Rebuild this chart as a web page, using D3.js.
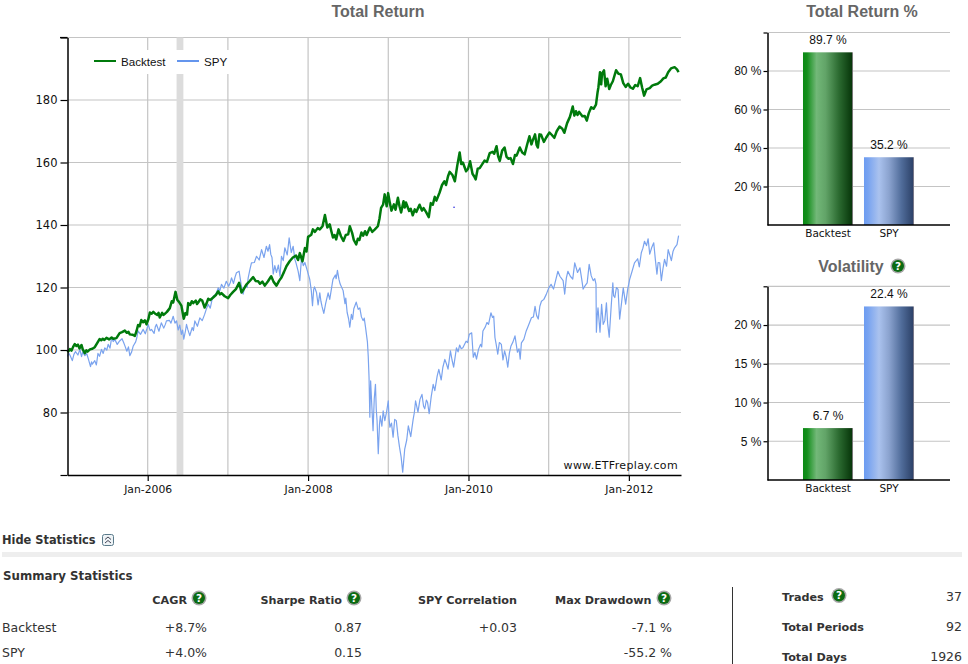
<!DOCTYPE html>
<html><head><meta charset="utf-8">
<script src="https://cdn.jsdelivr.net/npm/d3@7/dist/d3.min.js"></script>
<style>html,body{margin:0;padding:0;background:#fff;overflow:hidden}svg{display:block}</style>
</head><body><svg id="c" width="968" height="664"></svg>
<script>
// [decimal year, value]
const backtestSeries=[[2005.00,99.3],[2005.02,99.9],[2005.03,100.3],[2005.05,99.8],[2005.07,101],[2005.09,101.9],[2005.11,101.3],[2005.13,101.7],[2005.15,100.5],[2005.175,101.6],[2005.19,100.2],[2005.216,99],[2005.235,99.9],[2005.25,99.5],[2005.28,100.2],[2005.31,100.4],[2005.34,100.9],[2005.37,102.2],[2005.40,103.5],[2005.42,103.1],[2005.44,103.6],[2005.46,103.2],[2005.486,103.9],[2005.52,103.4],[2005.55,104],[2005.57,103.6],[2005.61,103.8],[2005.63,104.6],[2005.65,105.4],[2005.68,105.7],[2005.715,106.2],[2005.74,105.5],[2005.76,105.8],[2005.777,105],[2005.81,104.9],[2005.84,104.5],[2005.86,106],[2005.88,108],[2005.90,107.6],[2005.92,109.6],[2005.943,108.9],[2005.965,109.5],[2005.985,108.2],[2006.01,110],[2006.027,112],[2006.05,111.6],[2006.07,112.2],[2006.09,111.7],[2006.12,111.2],[2006.135,111.9],[2006.15,110.4],[2006.18,111.9],[2006.195,111.2],[2006.21,111.5],[2006.24,112.2],[2006.276,113.4],[2006.30,115.6],[2006.318,115.2],[2006.347,118.6],[2006.37,116],[2006.39,115.4],[2006.42,114.2],[2006.45,110],[2006.47,111.8],[2006.49,111.3],[2006.505,115],[2006.53,114.4],[2006.55,115.6],[2006.567,115],[2006.60,115.8],[2006.615,114.7],[2006.63,115.2],[2006.655,116.2],[2006.68,115.8],[2006.71,113.6],[2006.735,115],[2006.755,116.4],[2006.78,116],[2006.816,116.8],[2006.85,117.6],[2006.88,118.8],[2006.90,117.8],[2006.92,118.2],[2006.96,117.2],[2007.003,116.6],[2007.03,117.6],[2007.065,118.6],[2007.10,119.5],[2007.14,121.5],[2007.17,118.4],[2007.20,119.6],[2007.23,120.9],[2007.27,122],[2007.315,123.3],[2007.345,122.1],[2007.377,122],[2007.40,121.2],[2007.43,121.9],[2007.46,120.6],[2007.50,122],[2007.54,123.6],[2007.57,121.8],[2007.606,120.6],[2007.64,122.2],[2007.668,123.2],[2007.70,125],[2007.73,126.8],[2007.77,128.4],[2007.81,129.6],[2007.85,130.2],[2007.875,128.8],[2007.897,131],[2007.93,128.4],[2007.96,132.6],[2007.98,131.5],[2008.00,136.2],[2008.04,136.9],[2008.06,138.6],[2008.086,137.8],[2008.12,139],[2008.146,138.6],[2008.18,139.6],[2008.21,143.2],[2008.24,139.2],[2008.27,140.2],[2008.29,138],[2008.31,136],[2008.33,136.8],[2008.35,135.4],[2008.38,138.6],[2008.41,136.4],[2008.44,134.9],[2008.47,136.8],[2008.50,137],[2008.52,139.6],[2008.55,137.4],[2008.57,135.2],[2008.60,133.8],[2008.62,135.6],[2008.64,135.2],[2008.665,137.6],[2008.686,136.6],[2008.71,138],[2008.73,136.8],[2008.77,139.2],[2008.80,137.8],[2008.83,138.5],[2008.87,139.6],[2008.89,142],[2008.91,145.5],[2008.935,146.5],[2008.955,149.8],[2008.98,146],[2008.998,150.2],[2009.02,147],[2009.04,144.6],[2009.07,146.6],[2009.09,144.9],[2009.12,148.7],[2009.14,146],[2009.16,144],[2009.19,147.6],[2009.205,145.6],[2009.22,147.2],[2009.26,144.5],[2009.28,145.2],[2009.305,143.1],[2009.33,145],[2009.35,144.2],[2009.39,146.5],[2009.42,144.6],[2009.44,145.4],[2009.47,144.2],[2009.505,142.5],[2009.53,147],[2009.555,146.5],[2009.58,149],[2009.60,147.8],[2009.64,150.4],[2009.67,152.8],[2009.70,154],[2009.72,152.8],[2009.745,155.6],[2009.765,157],[2009.80,156],[2009.83,154],[2009.86,159],[2009.89,163.2],[2009.91,159.5],[2009.93,160],[2009.97,157.2],[2009.995,158],[2010.02,160.4],[2010.05,156.4],[2010.07,155.6],[2010.09,154.6],[2010.115,158],[2010.14,158.2],[2010.17,159.4],[2010.20,160.6],[2010.23,160.2],[2010.265,163],[2010.30,163.4],[2010.32,162.8],[2010.35,165.2],[2010.37,162],[2010.39,160.5],[2010.42,163.8],[2010.45,164.8],[2010.475,161.8],[2010.50,161.2],[2010.525,161.4],[2010.555,159.5],[2010.58,162.4],[2010.60,162.2],[2010.64,164.8],[2010.67,163.2],[2010.70,162.6],[2010.73,165.6],[2010.76,168.4],[2010.785,165.8],[2010.80,167],[2010.83,169],[2010.85,165.6],[2010.865,164.8],[2010.885,169],[2010.905,168.9],[2010.94,166.6],[2010.97,168],[2011.01,169.6],[2011.04,168.8],[2011.07,167.9],[2011.10,170],[2011.135,171.5],[2011.17,170.8],[2011.195,169.5],[2011.23,172.6],[2011.265,174.6],[2011.30,177.9],[2011.32,175],[2011.34,176.4],[2011.36,175.2],[2011.38,176.2],[2011.42,174.8],[2011.45,174.9],[2011.475,173.4],[2011.50,175.8],[2011.53,177.7],[2011.56,177.2],[2011.59,178.5],[2011.61,182.5],[2011.62,184],[2011.64,188.9],[2011.655,185],[2011.665,188.4],[2011.69,189.5],[2011.71,184.4],[2011.73,186.8],[2011.755,183.5],[2011.775,184.8],[2011.80,186],[2011.84,189.5],[2011.87,188.4],[2011.90,188.2],[2011.93,185.4],[2011.96,184.2],[2011.99,185.2],[2012.02,184],[2012.05,183.6],[2012.08,184.8],[2012.11,184.4],[2012.14,187],[2012.165,184],[2012.19,181.4],[2012.22,183.4],[2012.26,183.8],[2012.29,184.6],[2012.32,184.9],[2012.36,185.2],[2012.40,186],[2012.43,186.9],[2012.46,187.2],[2012.49,188.9],[2012.525,190.1],[2012.57,190.5],[2012.60,189.8],[2012.62,188.9]];
const spySeries=[[2005.00,97.9],[2005.015,99],[2005.03,98.4],[2005.06,96.6],[2005.08,98.6],[2005.10,99.5],[2005.13,98.4],[2005.155,100.2],[2005.175,97.9],[2005.19,99.4],[2005.216,98.2],[2005.24,98.8],[2005.258,97.3],[2005.287,94.7],[2005.30,96.2],[2005.31,95.5],[2005.34,96.6],[2005.36,95.2],[2005.38,98.9],[2005.40,98],[2005.424,100.2],[2005.445,98.9],[2005.465,100.7],[2005.49,100],[2005.507,101.8],[2005.53,100.6],[2005.55,103.9],[2005.57,102.7],[2005.59,103.4],[2005.62,101.8],[2005.65,102.9],[2005.68,103.6],[2005.70,102.4],[2005.715,101.4],[2005.74,99.6],[2005.76,101],[2005.777,98.2],[2005.80,99.4],[2005.82,101.3],[2005.85,102.6],[2005.865,104],[2005.88,106.1],[2005.91,105],[2005.943,106.6],[2005.97,105.2],[2005.99,106.8],[2006.006,108.2],[2006.03,106.2],[2006.047,106.6],[2006.08,105.3],[2006.095,107.4],[2006.11,108.2],[2006.14,106],[2006.17,108.7],[2006.20,107],[2006.22,108.2],[2006.234,109.3],[2006.27,109.5],[2006.29,108.6],[2006.318,110.8],[2006.34,108.6],[2006.36,109.3],[2006.38,106.4],[2006.40,108],[2006.42,105],[2006.435,106.4],[2006.45,103.5],[2006.47,106],[2006.484,108.2],[2006.50,106.6],[2006.525,104.6],[2006.555,107.2],[2006.57,106.2],[2006.588,109.3],[2006.62,107.6],[2006.65,110.3],[2006.68,109.4],[2006.71,111.4],[2006.73,113],[2006.754,114.6],[2006.78,113.4],[2006.80,115.8],[2006.816,117.2],[2006.85,117.8],[2006.88,119.9],[2006.90,119],[2006.92,121],[2006.95,119.8],[2006.98,122],[2007.01,120.4],[2007.03,121.6],[2007.045,123.1],[2007.07,121.3],[2007.09,123.4],[2007.107,124.7],[2007.14,125.2],[2007.165,121],[2007.19,117.9],[2007.205,119.6],[2007.22,120.8],[2007.24,120],[2007.253,123.1],[2007.275,125.8],[2007.294,127.9],[2007.33,128],[2007.357,130],[2007.39,128.8],[2007.42,132.1],[2007.45,129.6],[2007.48,133.2],[2007.50,131.6],[2007.52,133.7],[2007.535,130.6],[2007.55,129.6],[2007.565,124.3],[2007.585,127],[2007.606,124.8],[2007.63,127.2],[2007.65,123.6],[2007.668,130],[2007.69,128.6],[2007.71,132.7],[2007.74,130.4],[2007.764,135.9],[2007.79,131.2],[2007.814,133.2],[2007.835,129],[2007.85,127.8],[2007.875,125.3],[2007.897,122.2],[2007.918,129.5],[2007.94,127],[2007.96,128],[2007.99,125.4],[2008.02,122.7],[2008.04,119],[2008.055,114.2],[2008.07,119.4],[2008.08,120.2],[2008.105,118.4],[2008.125,114.4],[2008.146,118.3],[2008.16,115.6],[2008.175,113.8],[2008.196,111.7],[2008.22,115],[2008.25,118.3],[2008.27,116.2],[2008.29,119.4],[2008.31,122.6],[2008.34,124],[2008.35,122.8],[2008.366,125.5],[2008.385,122.6],[2008.40,121.1],[2008.437,119],[2008.46,114.8],[2008.47,116.6],[2008.487,112],[2008.505,110],[2008.52,107.3],[2008.54,111.4],[2008.555,109.8],[2008.57,113.2],[2008.60,115.3],[2008.625,113],[2008.645,113.5],[2008.665,110.6],[2008.686,109.4],[2008.70,110.2],[2008.716,107.3],[2008.74,102.5],[2008.75,98],[2008.76,91.3],[2008.77,78.5],[2008.78,90.1],[2008.795,82],[2008.81,74.2],[2008.825,84.4],[2008.84,89],[2008.85,81],[2008.86,77.4],[2008.875,66.8],[2008.89,76],[2008.90,78.9],[2008.92,75.6],[2008.936,80.5],[2008.957,77.4],[2008.98,80.4],[2009.0,83.7],[2009.01,78],[2009.02,75.3],[2009.04,76.6],[2009.06,72.1],[2009.08,77.8],[2009.10,77.4],[2009.12,72.6],[2009.14,68.9],[2009.16,65.8],[2009.18,60.9],[2009.205,68.3],[2009.23,71.2],[2009.25,75.7],[2009.28,72.3],[2009.31,77.8],[2009.325,80],[2009.34,83.7],[2009.37,80.1],[2009.395,84.2],[2009.42,85.8],[2009.44,82],[2009.455,81.2],[2009.475,84],[2009.49,83.2],[2009.51,79.6],[2009.535,85],[2009.56,89],[2009.58,87],[2009.61,91.7],[2009.63,93.8],[2009.66,90.4],[2009.68,94.4],[2009.705,97],[2009.725,95.6],[2009.745,93.9],[2009.775,99.7],[2009.795,96.8],[2009.815,94.5],[2009.85,100.7],[2009.87,99.4],[2009.89,101.6],[2009.91,100.4],[2009.93,100.7],[2009.97,102.8],[2009.99,102.4],[2010.01,105],[2010.04,105.5],[2010.06,97.7],[2010.08,99.2],[2010.10,97.1],[2010.125,100.2],[2010.15,101.8],[2010.165,101],[2010.18,106.1],[2010.21,107.4],[2010.23,108.8],[2010.25,108.2],[2010.28,111.9],[2010.30,110.4],[2010.315,110.8],[2010.33,104],[2010.345,101.9],[2010.365,98.7],[2010.385,102.4],[2010.41,101.8],[2010.43,96.8],[2010.45,99.7],[2010.47,97.8],[2010.49,94.5],[2010.51,99],[2010.53,101.3],[2010.555,102.6],[2010.58,104.5],[2010.61,99.3],[2010.63,100.4],[2010.645,97.1],[2010.66,102.3],[2010.69,103.4],[2010.72,106.1],[2010.75,108],[2010.785,110.3],[2010.81,110.6],[2010.83,114],[2010.85,111],[2010.87,109.9],[2010.89,114],[2010.91,115.6],[2010.94,116.2],[2010.97,117.8],[2011.00,119.8],[2011.03,121],[2011.06,119.5],[2011.09,122.6],[2011.115,125.2],[2011.14,123.6],[2011.18,122.2],[2011.20,117.9],[2011.22,123],[2011.24,125.2],[2011.27,123.6],[2011.30,122.7],[2011.325,127.9],[2011.36,124.8],[2011.39,126.3],[2011.41,123],[2011.43,119.5],[2011.455,120.6],[2011.48,121.5],[2011.505,127.4],[2011.53,123.8],[2011.555,122.2],[2011.575,122.8],[2011.59,121.1],[2011.595,105.7],[2011.605,110.8],[2011.615,113.5],[2011.64,105.7],[2011.66,114.6],[2011.68,108.2],[2011.70,109.4],[2011.72,115.1],[2011.735,108.6],[2011.755,104.1],[2011.78,114.2],[2011.80,121.5],[2011.81,117.4],[2011.825,116.8],[2011.845,120],[2011.865,119.4],[2011.885,109.9],[2011.91,115.4],[2011.93,119.9],[2011.96,114.7],[2011.985,119.4],[2012.01,122.6],[2012.04,125.2],[2012.07,127.9],[2012.11,129.2],[2012.13,126.6],[2012.155,131.1],[2012.175,132.6],[2012.195,134.8],[2012.22,133.4],[2012.24,135.6],[2012.26,130.7],[2012.285,132.8],[2012.31,134.3],[2012.33,129],[2012.35,124.3],[2012.365,128],[2012.385,127.9],[2012.405,122.2],[2012.425,126],[2012.445,129],[2012.47,126.8],[2012.49,132.1],[2012.51,130.4],[2012.53,128.6],[2012.55,131.5],[2012.57,132.7],[2012.60,133.7],[2012.62,136.6]];
const strayPoint=[2009.82,145.7];
const bandYears=[2006.36,2006.445];
const gridYears=[2005,2006,2007,2008,2009,2010,2011,2012];
const axisYears=[2006,2008,2010,2012];
const returnTicksMain=[60,80,100,120,140,160,180,200];
const seriesNames=["Backtest","SPY"];
const totalReturnPct=[89.7,35.2];
const volatilityPct=[6.7,22.4];
const returnTicks=[20,40,60,80,100];
const volTicks=[5,10,15,20,25];
const statCols=["CAGR","Sharpe Ratio","SPY Correlation","Max Drawdown"];
const statBacktest=["+8.7%","0.87","+0.03","-7.1 %"];
const statSpy=["+4.0%","0.15","","-55.2 %"];
const sideLabels=["Trades","Total Periods","Total Days"];
const sideValues=["37","92","1926"];

const svg=d3.select("#c");
const LIB="'Liberation Sans',Arial,sans-serif", DJ="'DejaVu Sans',Verdana,sans-serif";
const GREEN="#007a0c",BLUE="#7aa3ee",GRID="#c4c4c4";
const defs=svg.append("defs");
function grad(id,stops){const g=defs.append("linearGradient").attr("id",id);
 stops.forEach(s=>g.append("stop").attr("offset",s[0]).attr("stop-color",s[1]));}
grad("gGreen",[[0,"#0a8a14"],[.08,"#148e1c"],[.27,"#72b878"],[.45,"#62a468"],[.72,"#2b6a30"],[.98,"#07360a"],[.98,"#777"],[1,"#777"]]);
grad("gBlue",[[0,"#6c9cf2"],[.08,"#78a3f0"],[.3,"#aac2ee"],[.5,"#8ba3cf"],[.75,"#506c9a"],[.98,"#2d4269"],[.98,"#778"],[1,"#778"]]);

function title(t,x,y){return svg.append("text").attr("x",x).attr("y",y).attr("text-anchor","middle")
 .attr("font-family",LIB).attr("font-weight","bold").attr("font-size",16).attr("fill","#666").text(t);}
function help(x,y){const g=svg.append("g").attr("transform",`translate(${x},${y})`);
 g.append("circle").attr("r",7.5).attr("fill","#a8a8a8");
 g.append("circle").attr("r",6).attr("fill","#0b6b12");
 g.append("text").attr("y",3.9).attr("text-anchor","middle").attr("font-family",DJ).attr("font-weight","bold").attr("font-size",10.5).attr("fill","#fff").text("?");}

// main chart
const x=d3.scaleLinear().domain([2005,2012.65]).range([67.5,681]);
const y=d3.scaleLinear().domain([60,200]).range([475,37.5]);
title("Total Return",378,17);
const m=svg.append("g");
m.selectAll(".gy").data(returnTicksMain.slice(1)).join("line").attr("x1",67.5).attr("x2",681)
 .attr("y1",d=>y(d)).attr("y2",d=>y(d)).attr("stroke",GRID).attr("stroke-width",1.2);
m.selectAll(".gx").data(gridYears.slice(1)).join("line").attr("y1",37.5).attr("y2",475)
 .attr("x1",d=>x(d)).attr("x2",d=>x(d)).attr("stroke",GRID).attr("stroke-width",1.2);
m.append("rect").attr("x",x(bandYears[0])).attr("width",x(bandYears[1])-x(bandYears[0]))
 .attr("y",37.5).attr("height",437.5).attr("fill","#dcdcdc");
// legend
const leg=m.append("g");
leg.append("rect").attr("x",88).attr("y",50).attr("width",142).attr("height",24).attr("fill","#fff");
[[94,116,121,GREEN,seriesNames[0]],[177,199,204,"#6495ed",seriesNames[1]]].forEach(l=>{
 leg.append("line").attr("x1",l[0]).attr("x2",l[1]).attr("y1",61).attr("y2",61).attr("stroke",l[3]).attr("stroke-width",2);
 leg.append("text").attr("x",l[2]).attr("y",66).attr("font-family",LIB).attr("font-size",11.6).attr("fill","#111").text(l[4]);
});
const ln=d3.line().x(d=>x(d[0])).y(d=>y(d[1]));
m.append("path").attr("d",ln(spySeries)).attr("fill","none").attr("stroke",BLUE).attr("stroke-width",1.2).attr("stroke-linejoin","round");
m.append("path").attr("d",ln(backtestSeries)).attr("fill","none").attr("stroke",GREEN).attr("stroke-width",2.5).attr("stroke-linejoin","round");
m.append("circle").attr("cx",x(strayPoint[0])).attr("cy",y(strayPoint[1])).attr("r",.8).attr("fill","#2222dd");
function styleAxis(g,size,font){g.selectAll("path").attr("stroke","#000").attr("stroke-width",1.5);
 g.selectAll("line").attr("stroke","#000").attr("stroke-width",1.2);
 g.selectAll("text").attr("font-family",font||DJ).attr("font-size",size).attr("fill","#111");}
const ya=m.append("g").attr("transform","translate(67.5,0)")
 .call(d3.axisLeft(y).tickValues(returnTicksMain).tickSize(7).tickSizeOuter(0).tickFormat(d=>(d===60||d===200)?"":d));
styleAxis(ya,11.5);
const xa=m.append("g").attr("transform","translate(0,475)")
 .call(d3.axisBottom(x).tickValues(axisYears).tickSize(6).tickSizeOuter(0).tickFormat(d=>"Jan-"+d));
styleAxis(xa,10.8);
xa.selectAll("text").attr("dy","0.85em");
m.append("line").attr("x1",60).attr("x2",67.5).attr("y1",37.5).attr("y2",37.5).attr("stroke","#000").attr("stroke-width",1.2);
m.append("text").attr("x",678).attr("y",469).attr("text-anchor","end").attr("font-family",DJ).attr("font-size",11)
 .attr("letter-spacing",".35").attr("fill","#111").text("www.ETFreplay.com");

// bar charts
function bars(vals,ticks,top,bottom,maxV){
 const g=svg.append("g");
 const yb=d3.scaleLinear().domain([0,maxV]).range([bottom,top]);
 const xb=d3.scaleBand().domain(seriesNames).range([797.5,919.5]).paddingInner(.18).paddingOuter(.09);
 g.selectAll(".g").data(ticks).join("line").attr("x1",767.5).attr("x2",950).attr("y1",d=>yb(d)).attr("y2",d=>yb(d)).attr("stroke",GRID).attr("stroke-width",1.2);
 g.selectAll(".b").data(vals).join("rect").attr("x",(d,i)=>xb(seriesNames[i])).attr("width",xb.bandwidth())
  .attr("y",d=>yb(d)).attr("height",d=>bottom-yb(d)).attr("fill",(d,i)=>i?"url(#gBlue)":"url(#gGreen)");
 g.selectAll(".l").data(vals).join("text").attr("x",(d,i)=>xb(seriesNames[i])+xb.bandwidth()/2).attr("y",d=>yb(d)-8)
  .attr("text-anchor","middle").attr("font-family",LIB).attr("font-size",12).attr("fill","#111").text(d=>d.toFixed(1)+" %");
 const a=g.append("g").attr("transform","translate(767.5,0)").call(d3.axisLeft(yb).tickValues(ticks).tickSize(4).tickPadding(2).tickSizeOuter(0).tickFormat(d=>d===maxV?"":d+" %"));
 styleAxis(a,12,LIB);
 const b=g.append("g").attr("transform",`translate(0,${bottom})`).call(d3.axisBottom(xb).tickSize(0));
 styleAxis(b,10.5);
 b.selectAll("text").attr("dy","0.85em");
 b.select("path").attr("d",`M767.5,0H950`);
}
title("Total Return %",862,17);
bars(totalReturnPct,returnTicks,32.5,225,100);
title("Volatility",851,272);
help(898,266);
bars(volatilityPct,volTicks,286.3,480,25);

// statistics
function txt(t,px,py,o={}){return svg.append("text").attr("x",px).attr("y",py).attr("text-anchor",o.a||"start")
 .attr("font-family",DJ).attr("font-weight",o.b?"bold":"normal").attr("font-size",o.s||12).attr("fill",o.c||"#333").text(t);}
txt("Hide Statistics",2,544,{b:1,s:11.4});
const ic=svg.append("g").attr("transform","translate(102,534)");
ic.append("rect").attr("x",.5).attr("y",.5).attr("width",11).attr("height",11).attr("rx",2).attr("fill","#eef3f6").attr("stroke","#5a7a8a");
ic.append("path").attr("d","M3,5.5L6,3L9,5.5M3,9L6,6.5L9,9").attr("fill","none").attr("stroke","#445");
svg.append("rect").attr("x",2).attr("y",552).attr("width",960).attr("height",5).attr("fill","#eee");
txt("Summary Statistics",3,580,{b:1,s:11.8});
const colRight=[187,342,517,651.5];
statCols.forEach((c,i)=>txt(c,colRight[i],604,{b:1,s:11.2,a:"end"}));
[207,362,672].forEach(px=>help(px-8,598));
const valRight=[207,362,517,672];
txt(seriesNames[0],2,632,{s:12.5});txt(seriesNames[1],2,657,{s:12.5});
statBacktest.forEach((v,i)=>txt(v,valRight[i],632,{a:"end",s:12.5}));
statSpy.forEach((v,i)=>v&&txt(v,valRight[i],657,{a:"end",s:12.5}));
svg.append("line").attr("x1",732.5).attr("x2",732.5).attr("y1",587).attr("y2",664).attr("stroke","#333").attr("stroke-width",1);
const sideY=[601,631,661];
sideLabels.forEach((l,i)=>{txt(l,782,sideY[i],{b:1,s:11.2});txt(sideValues[i],962,sideY[i],{a:"end",s:12.5});});
help(839,595.5);
</script></body></html>
